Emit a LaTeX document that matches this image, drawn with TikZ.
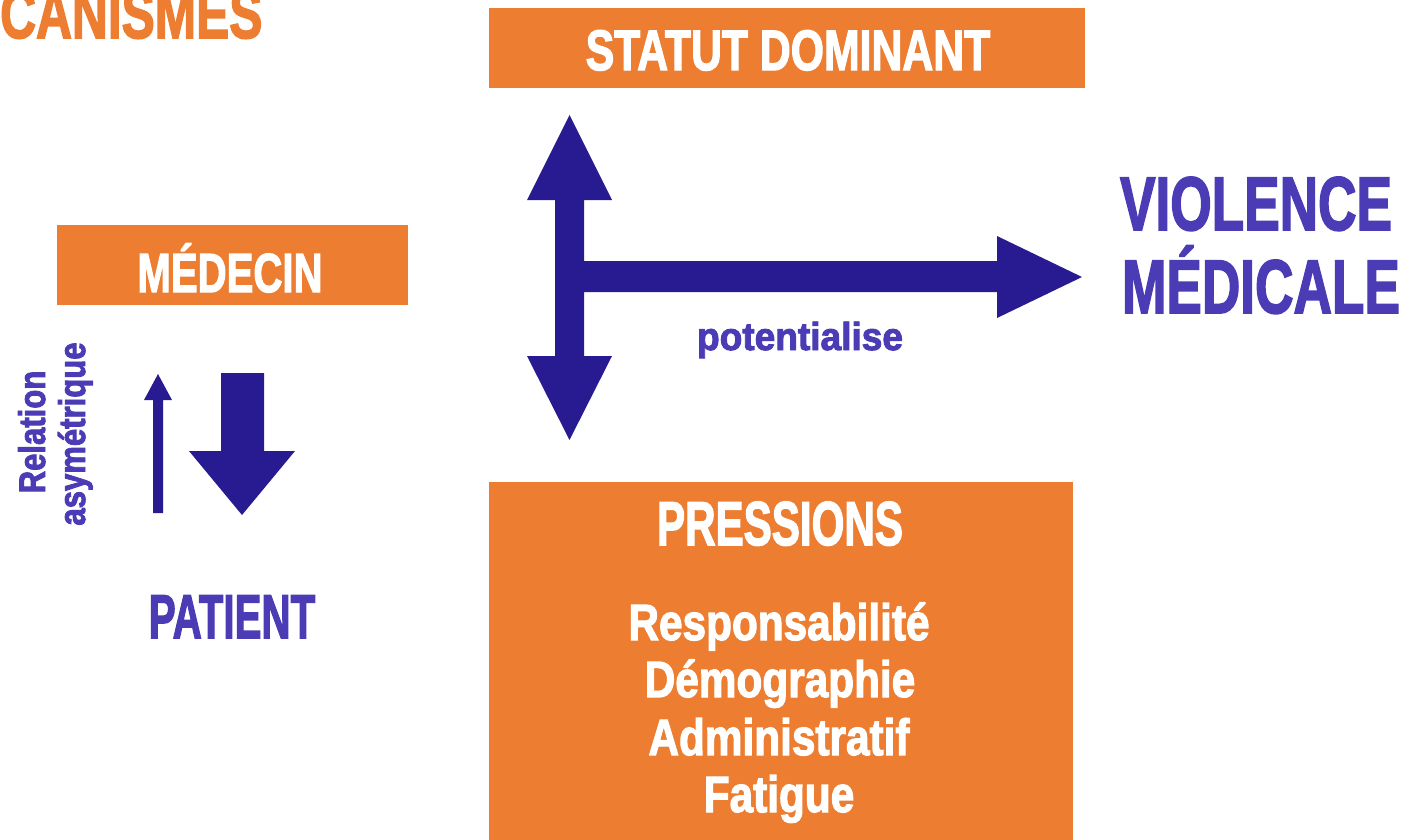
\documentclass[tikz,border=0pt]{standalone}
\usepackage{fontspec}
\newfontfamily\imp[FakeBold=2.5]{Liberation Sans Bold}
\definecolor{orng}{HTML}{EC7D31}
\definecolor{arw}{HTML}{281A91}
\definecolor{txtb}{HTML}{4B3CB6}
\newcommand\ttx[3]{\scalebox{#2}[1]{\fontsize{#1}{#1}\selectfont #3}}
\begin{document}
\begin{tikzpicture}[x=1pt,y=-1pt,
  box/.style={fill=orng, draw=none, inner sep=0},
  lbl/.style={inner sep=0, anchor=base, font=\imp},
  blockarrow/.style={fill=arw, draw=none}]
\useasboundingbox (0,0) rectangle (1407,839);
\clip (0,0) rectangle (1407,839);
% boxes
\node[box, minimum width=596, minimum height=80] (statut) at (787,48) {};
\node[box, minimum width=351, minimum height=80] (medecin) at (232.5,265) {};
\node[box, minimum width=584, minimum height=368] (pressions) at (781,666) {};
% texts
\node[lbl, text=orng, anchor=base west] (title) at (0,38) {\ttx{69}{0.72}{CANISMES}};
\node[lbl, text=white] (tstatut) at (788,70) {\ttx{57}{0.75}{STATUT DOMINANT}};
\node[lbl, text=white] (tmed) at (230,292) {\ttx{55}{0.73}{MÉDECIN}};
\node[lbl, text=txtb] (tpat) at (232,638) {\ttx{62}{0.65}{PATIENT}};
\node[lbl, text=txtb] (tvio) at (1256,230) {\ttx{76}{0.70}{VIOLENCE}};
\node[lbl, text=txtb] (tmedi) at (1261,313) {\ttx{76}{0.70}{MÉDICALE}};
\node[lbl, text=white] (tpress) at (780,545) {\ttx{62}{0.68}{PRESSIONS}};
\node[lbl, text=white] (p1) at (779,640) {\ttx{51}{0.83}{Responsabilité}};
\node[lbl, text=white] (p2) at (780,697) {\ttx{51}{0.83}{Démographie}};
\node[lbl, text=white] (p3) at (779,755) {\ttx{51}{0.83}{Administratif}};
\node[lbl, text=white] (p4) at (779,812) {\ttx{51}{0.83}{Fatigue}};
\node[lbl, text=txtb] (pot) at (800,350) {\ttx{39}{0.95}{potentialise}};
\node[lbl, text=txtb, rotate=90] (rel) at (45,432) {\ttx{37}{0.84}{Relation}};
\node[lbl, text=txtb, rotate=90] (asy) at (85,434) {\ttx{37}{0.84}{asymétrique}};
% T-shaped double arrow
\fill[blockarrow] (569.5,115) -- (612,200) -- (584,200) -- (584,261) -- (997,261)
  -- (997,236) -- (1082,277) -- (997,318) -- (997,292) -- (584,292) -- (584,356)
  -- (612,356) -- (569.5,440) -- (527,356) -- (555,356) -- (555,200) -- (527,200) -- cycle;
% thin up arrow
\fill[blockarrow] (158,374) -- (172,400) -- (163,400) -- (163,513) -- (153,513)
  -- (153,400) -- (144,400) -- cycle;
% big down arrow
\fill[blockarrow] (221,373) -- (264,373) -- (264,451) -- (295,451) -- (242,515)
  -- (189,451) -- (221,451) -- cycle;
\end{tikzpicture}
\end{document}
